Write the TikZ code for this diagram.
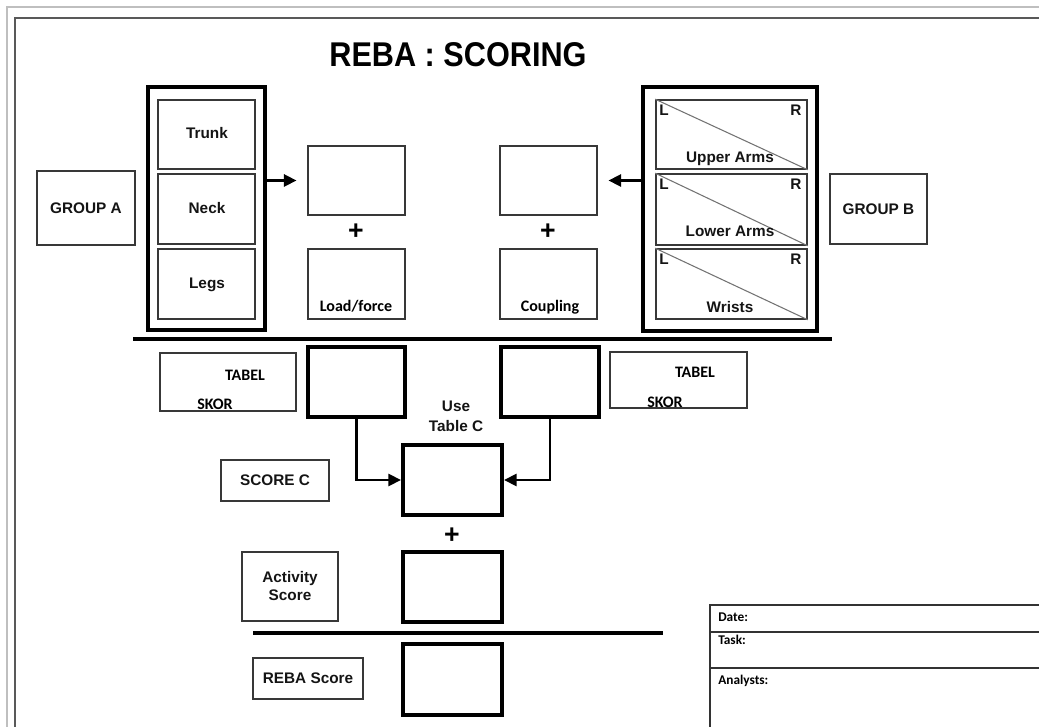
\documentclass[tikz,border=0pt]{standalone}
\usepackage{fontspec}
\setmainfont{Liberation Sans}
\newfontfamily\calfont{Carlito}
\usetikzlibrary{fit,arrows.meta}
\begin{document}
\begin{tikzpicture}[x=0.75pt,y=-0.75pt,
 thinbox/.style={draw=black!78, line width=1.2pt, inner sep=0pt},
 thickbox/.style={draw=black, line width=3pt, inner sep=0pt},
 framebox/.style={draw=black, line width=3.4pt, inner sep=0pt},
 lbl/.style={font=\bfseries\fontsize{11.5}{13.5}\selectfont, inner sep=0pt, text=black!92},
 cal/.style={font=\calfont\bfseries\fontsize{12}{14}\selectfont, inner sep=0pt},
 smallcal/.style={font=\calfont\bfseries\fontsize{10}{12}\selectfont, inner sep=0pt, anchor=base west},
 arr/.style={line width=2.2pt, -{Triangle[length=9.5pt,width=9pt]}},
 diag/.style={draw=black!55, line width=0.8pt},
 plus/.style={font=\bfseries\fontsize{20}{20}\selectfont, inner sep=0pt}
]
\useasboundingbox (0,0) rectangle (1039,727);
% page frame
\draw[black!25, line width=1pt] (7,740) -- (7,7) -- (1050,7);
\draw[black!65, line width=1.6pt] (15,740) -- (15,18) -- (1050,18);

% title
\node[font=\bfseries\fontsize{23}{26}\selectfont, inner sep=0pt, anchor=base, yscale=1.12] (title) at (458,67) {REBA : SCORING};

% group A
\node[framebox, fit={(148,87)(265,330)}] (gA) {};
\node[thinbox, fit={(158,100)(255,169)}] (trunk) {};
\node[thinbox, fit={(158,174)(255,244)}] (neck) {};
\node[thinbox, fit={(158,249)(255,319)}] (legs) {};
\node[lbl, anchor=base] (trunkt) at (207,138.5) {Trunk};
\node[lbl, anchor=base] (neckt) at (207,213.5) {Neck};
\node[lbl, anchor=base] (legst) at (207,288.5) {Legs};
\node[thinbox, fit={(37,171)(135,245)}] (grpA) {};
\node[lbl] (grpAt) at (grpA) {GROUP A};

% centre upper boxes
\node[thinbox, fit={(308,146)(405,215)}] (topL) {};
\node[thinbox, fit={(308,249)(405,319)}] (load) {};
\node[cal, anchor=base] (loadt) at (356,312) {Load/force};
\node[plus] (plusL) at (356,232) {+};
\node[thinbox, fit={(500,146)(597,215)}] (topR) {};
\node[thinbox, fit={(500,249)(597,319)}] (coup) {};
\node[cal, anchor=base] (coupt) at (550,312) {Coupling};
\node[plus] (plusR) at (548,232) {+};

% group B
\node[framebox, fit={(643,87)(817,331)}] (gB) {};
\node[thinbox, fit={(656,100)(807,169)}] (ua) {};
\node[thinbox, fit={(656,174)(807,245)}] (la) {};
\node[thinbox, fit={(656,249)(807,319)}] (wr) {};
\foreach \b in {ua,la,wr}{
  \draw[diag] (\b.north west) -- (\b.south east);
  \node[lbl, anchor=north west] (\b L) at ([shift={(4,5)}]\b.north west) {L};
  \node[lbl, anchor=north east] (\b R) at ([shift={(-6,5)}]\b.north east) {R};
}
\node[lbl, anchor=base] (uat) at (730,162.5) {Upper Arms};
\node[lbl, anchor=base] (lat) at (730,236.5) {Lower Arms};
\node[lbl, anchor=base] (wrt) at (730,312.5) {Wrists};
\node[thinbox, fit={(830,174)(927,244)}] (grpB) {};
\node[lbl] (grpBt) at (grpB) {GROUP B};

% arrows into upper boxes
\draw[arr] (gA.east |- topL.west) -- ([xshift=-8pt]topL.west);
\draw[arr] (gB.west |- topR.east) -- ([xshift=8pt]topR.east);

% horizontal rule
\coordinate (r1a) at (133,339);
\coordinate (r1b) at (832,339);
\draw[line width=3pt] (r1a) -- (r1b);

% table scores
\node[thinbox, fit={(160,353)(296,411)}] (tabL) {};
\node[cal, anchor=base] (tabLt) at (245,380) {TABEL};
\node[cal, anchor=base] (tabLs) at (215,409) {SKOR};
\node[thickbox, fit={(308,347)(405,417)}] (box1) {};
\node[thickbox, fit={(501,347)(599,417)}] (box2) {};
\node[thinbox, fit={(610,352)(747,408)}] (tabR) {};
\node[cal, anchor=base] (tabRt) at (695,378) {TABEL};
\node[cal, anchor=base] (tabRs) at (665,407) {SKOR};

\node[lbl, anchor=base] (use) at (456,411.5) {Use};
\node[lbl, anchor=base] (tablec) at (456,431) {Table C};

% score C
\node[thickbox, fit={(403,445)(502,515)}] (boxC) {};
\draw[arr] (box1.south) |- (boxC.west);
\draw[arr] (box2.south) |- (boxC.east);
\node[thinbox, fit={(221,460)(329,501)}] (scC) {};
\node[lbl] (scCt) at (scC) {SCORE C};

\node[plus] (plusC) at (452,536) {+};

% activity
\node[thinbox, fit={(242,552)(338,621)}] (act) {};
\node[lbl, align=center, font=\bfseries\fontsize{11.5}{13.5}\selectfont] (actt) at (act) {Activity\\Score};
\node[thickbox, fit={(403,552)(502,622)}] (actbox) {};

\coordinate (r2a) at (253,633);
\coordinate (r2b) at (663,633);
\draw[line width=2.6pt] (r2a) -- (r2b);

% reba score
\node[thinbox, fit={(253,658)(363,699)}] (rebaL) {};
\node[lbl] (rebaLt) at (rebaL) {REBA Score};
\node[thickbox, fit={(403,644)(502,715)}] (rebabox) {};

% date / task / analysts table
\node[draw=black!80, line width=1.2pt, inner sep=0pt, fit={(710,605)(1050,632)}] (date) {};
\node[draw=black!80, line width=1.2pt, inner sep=0pt, fit={(710,632)(1050,668)}] (task) {};
\node[draw=black!80, line width=1.2pt, inner sep=0pt, fit={(710,668)(1050,740)}] (anal) {};
\node[smallcal] (datet) at (718,621) {Date:};
\node[smallcal] (taskt) at (718,644) {Task:};
\node[smallcal] (analt) at (718,684) {Analysts:};
\end{tikzpicture}
\end{document}
